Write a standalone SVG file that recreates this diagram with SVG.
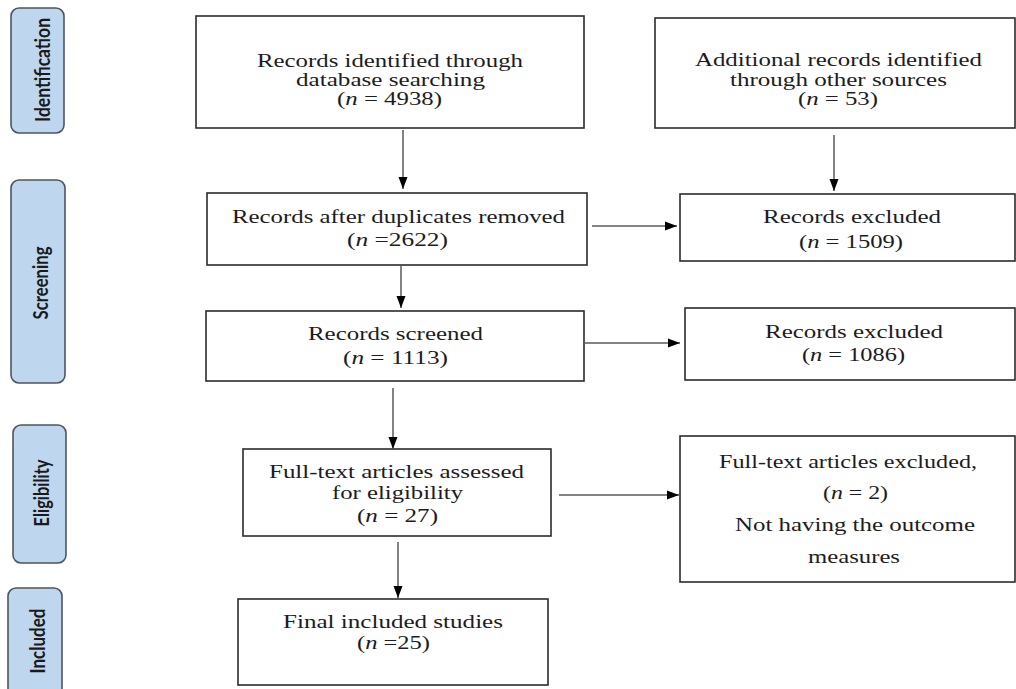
<svg xmlns="http://www.w3.org/2000/svg" width="1016" height="689" viewBox="0 0 1016 689">
<defs>
<style>
.bg{fill:#ffffff}
.box{fill:#ffffff;stroke:#2b2b2b;stroke-width:1.6}
.side{fill:#bfd7ee;stroke:#4d5660;stroke-width:1.6}
.t{font-family:"Liberation Serif","Times New Roman",serif;font-size:19px;fill:#1c1c22;text-anchor:middle}
.s{font-family:Lato,"Liberation Sans",sans-serif;font-weight:700;font-size:21px;fill:#1a1a1a;text-anchor:middle}
.c{stroke:#5a5a5a;stroke-width:1.5;fill:none;marker-end:url(#ah)}
</style>
<marker id="ah" markerUnits="userSpaceOnUse" markerWidth="12" markerHeight="10" refX="12" refY="5" orient="auto">
<path d="M0,0.5 L12,5 L0,9.5 z" fill="#000"/>
</marker>
</defs>
<rect class="bg" x="0" y="0" width="1016" height="689"/>

<g id="stage-identification">
<rect class="side" x="11" y="8" width="53" height="125" rx="8"/>
<text class="s" transform="translate(50,70) rotate(-90)" textLength="104" lengthAdjust="spacingAndGlyphs">Identification</text>
</g>
<g id="stage-screening">
<rect class="side" x="11" y="180" width="54" height="203" rx="8"/>
<text class="s" transform="translate(48,283) rotate(-90)" textLength="73" lengthAdjust="spacingAndGlyphs">Screening</text>
</g>
<g id="stage-eligibility">
<rect class="side" x="13" y="425" width="53" height="138" rx="8"/>
<text class="s" transform="translate(49,493) rotate(-90)" textLength="67" lengthAdjust="spacingAndGlyphs">Eligibility</text>
</g>
<g id="stage-included">
<rect class="side" x="8" y="588" width="54" height="115" rx="8"/>
<text class="s" transform="translate(45,641) rotate(-90)" textLength="65" lengthAdjust="spacingAndGlyphs">Included</text>
</g>

<g id="n-database">
<rect class="box" x="196" y="16" width="388" height="112"/>
<text class="t" x="390" y="67" textLength="266" lengthAdjust="spacingAndGlyphs">Records identified through</text>
<text class="t" x="390.5" y="86" textLength="189" lengthAdjust="spacingAndGlyphs">database searching</text>
<text class="t" x="389.5" y="105" textLength="105" lengthAdjust="spacingAndGlyphs">(<tspan font-style="italic">n</tspan> = 4938)</text>
</g>
<g id="n-other">
<rect class="box" x="655" y="18" width="360" height="110"/>
<text class="t" x="838.5" y="66" textLength="287" lengthAdjust="spacingAndGlyphs">Additional records identified</text>
<text class="t" x="838.5" y="86" textLength="217" lengthAdjust="spacingAndGlyphs">through other sources</text>
<text class="t" x="838" y="105" textLength="80" lengthAdjust="spacingAndGlyphs">(<tspan font-style="italic">n</tspan> = 53)</text>
</g>
<g id="n-duplicates">
<rect class="box" x="207" y="193" width="380" height="72"/>
<text class="t" x="398.5" y="223" textLength="333" lengthAdjust="spacingAndGlyphs">Records after duplicates removed</text>
<text class="t" x="397.5" y="246" textLength="101" lengthAdjust="spacingAndGlyphs">(<tspan font-style="italic">n</tspan> =2622)</text>
</g>
<g id="n-excluded1">
<rect class="box" x="680" y="194" width="335" height="67"/>
<text class="t" x="852" y="223" textLength="178" lengthAdjust="spacingAndGlyphs">Records excluded</text>
<text class="t" x="851" y="248" textLength="104" lengthAdjust="spacingAndGlyphs">(<tspan font-style="italic">n</tspan> = 1509)</text>
</g>
<g id="n-screened">
<rect class="box" x="206" y="311" width="378" height="70"/>
<text class="t" x="395.5" y="340" textLength="175" lengthAdjust="spacingAndGlyphs">Records screened</text>
<text class="t" x="395.5" y="364" textLength="105" lengthAdjust="spacingAndGlyphs">(<tspan font-style="italic">n</tspan> = 1113)</text>
</g>
<g id="n-excluded2">
<rect class="box" x="685" y="308" width="330" height="72"/>
<text class="t" x="854" y="338" textLength="178" lengthAdjust="spacingAndGlyphs">Records excluded</text>
<text class="t" x="853.5" y="361" textLength="103" lengthAdjust="spacingAndGlyphs">(<tspan font-style="italic">n</tspan> = 1086)</text>
</g>
<g id="n-fulltext">
<rect class="box" x="243" y="449" width="308" height="87"/>
<text class="t" x="396.5" y="478" textLength="255" lengthAdjust="spacingAndGlyphs">Full-text articles assessed</text>
<text class="t" x="397.5" y="499" textLength="131" lengthAdjust="spacingAndGlyphs">for eligibility</text>
<text class="t" x="397.5" y="522" textLength="81" lengthAdjust="spacingAndGlyphs">(<tspan font-style="italic">n</tspan> = 27)</text>
</g>
<g id="n-ftexcluded">
<rect class="box" x="680" y="436" width="335" height="146"/>
<text class="t" x="848" y="468" textLength="258" lengthAdjust="spacingAndGlyphs">Full-text articles excluded,</text>
<text class="t" x="855.5" y="499" textLength="65" lengthAdjust="spacingAndGlyphs">(<tspan font-style="italic">n</tspan> = 2)</text>
<text class="t" x="855" y="531" textLength="240" lengthAdjust="spacingAndGlyphs">Not having the outcome</text>
<text class="t" x="854" y="563" textLength="92" lengthAdjust="spacingAndGlyphs">measures</text>
</g>
<g id="n-final">
<rect class="box" x="238" y="599" width="310" height="86"/>
<text class="t" x="393" y="628" textLength="220" lengthAdjust="spacingAndGlyphs">Final included studies</text>
<text class="t" x="393.5" y="649" textLength="73" lengthAdjust="spacingAndGlyphs">(<tspan font-style="italic">n</tspan> =25)</text>
</g>

<g id="connectors">
<line class="c" x1="403" y1="130" x2="403" y2="189"/>
<line class="c" x1="834" y1="135" x2="834" y2="191"/>
<line class="c" x1="401" y1="266" x2="401" y2="308"/>
<line class="c" x1="592" y1="226" x2="677" y2="226"/>
<line class="c" x1="584" y1="343" x2="680" y2="343"/>
<line class="c" x1="393" y1="388" x2="393" y2="449"/>
<line class="c" x1="398" y1="542" x2="398" y2="598"/>
<line class="c" x1="559" y1="495" x2="679" y2="495"/>
</g>
</svg>
